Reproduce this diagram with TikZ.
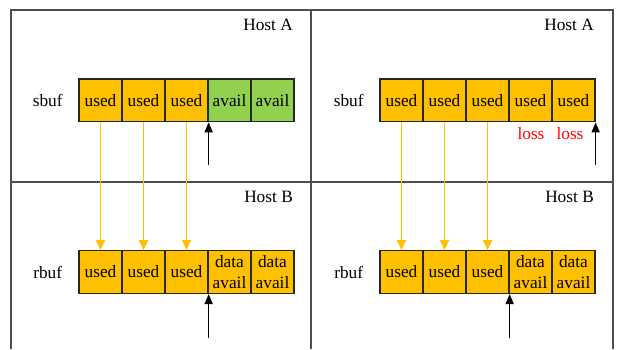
\documentclass[tikz,border=0pt]{standalone}
\usepackage{fontspec}
\setmainfont{Liberation Serif}
\usetikzlibrary{arrows.meta}
\definecolor{cellyel}{HTML}{FFC000}
\definecolor{cellgrn}{HTML}{92D050}
\definecolor{framegray}{HTML}{4D4D4D}
\definecolor{lossred}{HTML}{FF0000}
\begin{document}
\begin{tikzpicture}[x=1pt,y=-1pt,
  txt/.style={font=\fontsize{17.3}{20.5}\selectfont, inner sep=0pt},
  cell/.style={draw=black!85, line width=1.3pt, minimum width=43pt, minimum height=42.7pt, inner sep=0pt, align=center, font=\fontsize{17.3}{20.5}\selectfont},
  usedcell/.style={cell, fill=cellyel},
  availcell/.style={cell, fill=cellgrn},
  frameline/.style={draw=framegray, line width=1.8pt},
  sendarrow/.style={draw=cellyel, line width=1.8pt, -{Triangle[width=9pt,length=10pt]}},
  ptrarrow/.style={draw=black, line width=1.4pt, -{Triangle[width=8pt,length=10pt]}}
]
\useasboundingbox (0,0) rectangle (622,349);
\fill[white] (0,0) rectangle (622,349);
% frame
\coordinate (f1) at (11,349);
\coordinate (f2) at (11,10);
\coordinate (f3) at (613,10);
\coordinate (f4) at (613,349);
\coordinate (m1) at (311,10);
\coordinate (m2) at (311,349);
\coordinate (h1) at (11,182);
\coordinate (h2) at (613,182);
\draw[frameline] (f1) -- (f2) -- (f3) -- (f4);
\draw[frameline] (m1) -- (m2);
\draw[frameline] (h1) -- (h2);
% labels
\node[txt, anchor=east] (hostAl) at (293,25) {Host A};
\node[txt, anchor=east] (hostAr) at (594,25) {Host A};
\node[txt, anchor=east] (hostBl) at (293,197) {Host B};
\node[txt, anchor=east] (hostBr) at (594,197) {Host B};
\node[txt] (sbufl) at (47.7,100) {sbuf};
\node[txt] (sbufr) at (348.7,100) {sbuf};
\node[txt] (rbufl) at (47.7,272) {rbuf};
\node[txt] (rbufr) at (348.7,272) {rbuf};
% left sbuf
\node[usedcell] (sA1) at (100.5,100.3) {used};
\node[usedcell] (sA2) at (143.5,100.3) {used};
\node[usedcell] (sA3) at (186.5,100.3) {used};
\node[availcell] (sA4) at (229.5,100.3) {avail};
\node[availcell] (sA5) at (272.5,100.3) {avail};
% left rbuf
\node[usedcell] (rA1) at (100.5,272) {used};
\node[usedcell] (rA2) at (143.5,272) {used};
\node[usedcell] (rA3) at (186.5,272) {used};
\node[usedcell] (rA4) at (229.5,272) {data\\avail};
\node[usedcell] (rA5) at (272.5,272) {data\\avail};
% right sbuf
\node[usedcell] (sB1) at (401.5,100.3) {used};
\node[usedcell] (sB2) at (444.5,100.3) {used};
\node[usedcell] (sB3) at (487.5,100.3) {used};
\node[usedcell] (sB4) at (530.5,100.3) {used};
\node[usedcell] (sB5) at (573.5,100.3) {used};
% right rbuf
\node[usedcell] (rB1) at (401.5,272) {used};
\node[usedcell] (rB2) at (444.5,272) {used};
\node[usedcell] (rB3) at (487.5,272) {used};
\node[usedcell] (rB4) at (530.5,272) {data\\avail};
\node[usedcell] (rB5) at (573.5,272) {data\\avail};
% loss labels
\node[txt, text=lossred] (loss1) at (531,134) {loss};
\node[txt, text=lossred] (loss2) at (570,134) {loss};
% send arrows
\foreach \i in {1,2,3} {
  \draw[sendarrow] (sA\i.south) -- (rA\i.north);
  \draw[sendarrow] (sB\i.south) -- (rB\i.north);
}
% pointer arrows
\coordinate (pA) at ([yshift=-43pt]sA3.south east);
\coordinate (pB) at ([yshift=-43pt]sB5.south east);
\coordinate (qA) at ([yshift=-44pt]rA3.south east);
\coordinate (qB) at ([yshift=-44pt]rB3.south east);
\draw[ptrarrow] (pA) -- (sA3.south east);
\draw[ptrarrow] (pB) -- (sB5.south east);
\draw[ptrarrow] (qA) -- (rA3.south east);
\draw[ptrarrow] (qB) -- (rB3.south east);
\end{tikzpicture}
\end{document}
